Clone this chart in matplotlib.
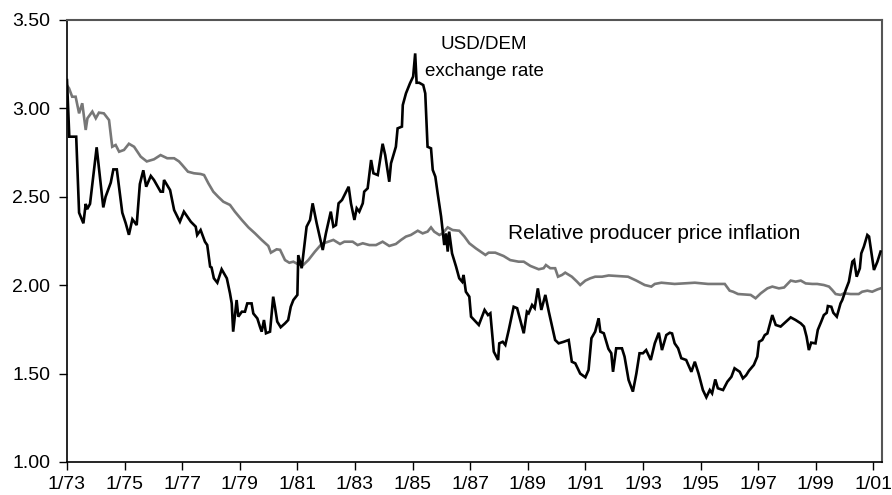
import matplotlib
matplotlib.use("Agg")
import matplotlib.pyplot as plt
import numpy as np

plt.rcParams['font.family'] = ['Liberation Sans', 'DejaVu Sans']

# USD/DEM exchange rate (decimal year, value)
fx_years = [
    1973.00, 1973.08, 1973.32, 1973.42, 1973.57, 1973.65, 1973.70, 1973.80, 1974.03, 1974.26,
    1974.34, 1974.52, 1974.61, 1974.73, 1974.92, 1975.04, 1975.15, 1975.27, 1975.42, 1975.53,
    1975.65, 1975.75, 1975.91, 1976.02, 1976.25, 1976.33, 1976.37, 1976.58, 1976.72, 1976.92,
    1977.06, 1977.30, 1977.47, 1977.52, 1977.64, 1977.79, 1977.87, 1977.97, 1978.02, 1978.10,
    1978.22, 1978.37, 1978.55, 1978.66, 1978.72, 1978.77, 1978.89, 1978.95, 1979.07, 1979.18,
    1979.26, 1979.41, 1979.47, 1979.61, 1979.70, 1979.76, 1979.84, 1979.91, 1980.05, 1980.16,
    1980.22, 1980.30, 1980.42, 1980.57, 1980.68, 1980.77, 1980.86, 1981.00, 1981.03, 1981.15,
    1981.32, 1981.44, 1981.53, 1981.67, 1981.88, 1981.99, 1982.16, 1982.25, 1982.34, 1982.43,
    1982.55, 1982.78, 1982.86, 1982.98, 1983.06, 1983.15, 1983.27, 1983.32, 1983.44, 1983.56,
    1983.64, 1983.79, 1983.96, 1984.05, 1984.19, 1984.25, 1984.42, 1984.48, 1984.63, 1984.66,
    1984.77, 1984.91, 1985.02, 1985.09, 1985.14, 1985.23, 1985.37, 1985.44, 1985.52, 1985.64,
    1985.70, 1985.79, 1985.87, 1985.99, 1986.10, 1986.16, 1986.22, 1986.27, 1986.37, 1986.51,
    1986.62, 1986.72, 1986.77, 1986.85, 1986.97, 1987.03, 1987.30, 1987.50, 1987.62, 1987.70,
    1987.82, 1987.97, 1988.01, 1988.13, 1988.22, 1988.34, 1988.51, 1988.63, 1988.86, 1988.97,
    1989.03, 1989.15, 1989.24, 1989.35, 1989.47, 1989.61, 1989.73, 1989.95, 1990.07, 1990.25,
    1990.42, 1990.53, 1990.65, 1990.82, 1991.00, 1991.11, 1991.21, 1991.34, 1991.46, 1991.52,
    1991.64, 1991.80, 1991.90, 1991.96, 1992.07, 1992.27, 1992.36, 1992.50, 1992.65, 1992.77,
    1992.88, 1993.00, 1993.11, 1993.27, 1993.41, 1993.55, 1993.66, 1993.81, 1993.93, 1994.01,
    1994.10, 1994.22, 1994.33, 1994.50, 1994.68, 1994.80, 1994.93, 1995.08, 1995.20, 1995.32,
    1995.40, 1995.51, 1995.60, 1995.78, 1995.93, 1996.07, 1996.18, 1996.36, 1996.47, 1996.58,
    1996.68, 1996.85, 1996.97, 1997.03, 1997.14, 1997.23, 1997.32, 1997.49, 1997.61, 1997.78,
    1997.90, 1998.13, 1998.30, 1998.48, 1998.59, 1998.68, 1998.76, 1998.84, 1998.99, 1999.07,
    1999.19, 1999.28, 1999.38, 1999.42, 1999.54, 1999.61, 1999.73, 1999.86, 1999.92, 2000.04,
    2000.15, 2000.27, 2000.33, 2000.42, 2000.53, 2000.58, 2000.67, 2000.79, 2000.85, 2000.96,
    2001.02, 2001.14, 2001.25,
]
fx_values = [
    3.16, 2.84, 2.84, 2.41, 2.35, 2.46, 2.43, 2.46, 2.78, 2.44,
    2.50, 2.58, 2.655, 2.655, 2.41, 2.35, 2.285, 2.373, 2.34, 2.572,
    2.65, 2.557, 2.618, 2.595, 2.529, 2.529, 2.595, 2.538, 2.425, 2.359,
    2.416, 2.359, 2.331, 2.284, 2.312, 2.246, 2.227, 2.105, 2.10, 2.039,
    2.014, 2.09, 2.039, 1.954, 1.897, 1.737, 1.916, 1.822, 1.85, 1.85,
    1.897, 1.897, 1.84, 1.812, 1.765, 1.737, 1.803, 1.728, 1.737, 1.935,
    1.878, 1.794, 1.762, 1.784, 1.803, 1.878, 1.916, 1.945, 2.17, 2.096,
    2.331, 2.369, 2.463, 2.35, 2.199, 2.293, 2.416, 2.331, 2.34, 2.463,
    2.482, 2.557, 2.463, 2.369, 2.435, 2.416, 2.463, 2.529, 2.548, 2.708,
    2.633, 2.623, 2.80, 2.736, 2.585, 2.689, 2.783, 2.887, 2.897, 3.019,
    3.085, 3.142, 3.18, 3.311, 3.145, 3.145, 3.132, 3.085, 2.783, 2.774,
    2.652, 2.614, 2.52, 2.388, 2.227, 2.293, 2.19, 2.303, 2.18, 2.105,
    2.039, 2.02, 2.058, 1.963, 1.935, 1.822, 1.775, 1.86, 1.831, 1.841,
    1.624, 1.577, 1.671, 1.68, 1.662, 1.747, 1.878, 1.87, 1.728, 1.85,
    1.841, 1.888, 1.87, 1.982, 1.86, 1.945, 1.85, 1.69, 1.671, 1.68,
    1.69, 1.567, 1.558, 1.50, 1.479, 1.52, 1.70, 1.737, 1.813, 1.737,
    1.728, 1.64, 1.615, 1.51, 1.643, 1.643, 1.596, 1.464, 1.398, 1.50,
    1.615, 1.615, 1.633, 1.577, 1.671, 1.731, 1.633, 1.718, 1.731, 1.727,
    1.671, 1.643, 1.587, 1.577, 1.51, 1.567, 1.50, 1.407, 1.366, 1.407,
    1.388, 1.467, 1.417, 1.407, 1.454, 1.482, 1.53, 1.51, 1.473, 1.49,
    1.516, 1.549, 1.596, 1.68, 1.69, 1.718, 1.727, 1.831, 1.775, 1.766,
    1.784, 1.818, 1.803, 1.784, 1.766, 1.709, 1.633, 1.675, 1.671, 1.747,
    1.794, 1.831, 1.844, 1.882, 1.878, 1.844, 1.822, 1.897, 1.916, 1.973,
    2.02, 2.133, 2.142, 2.048, 2.095, 2.18, 2.218, 2.284, 2.275, 2.152,
    2.086, 2.133, 2.19,
]

# Relative producer price inflation (decimal year, value)
ppi_years = [
    1973.00, 1973.07, 1973.18, 1973.30, 1973.42, 1973.53, 1973.65, 1973.71, 1973.88, 1974.00,
    1974.11, 1974.28, 1974.46, 1974.57, 1974.69, 1974.81, 1974.98, 1975.15, 1975.33, 1975.56,
    1975.77, 1976.02, 1976.25, 1976.48, 1976.72, 1976.89, 1977.00, 1977.20, 1977.41, 1977.64,
    1977.76, 1977.91, 1978.08, 1978.25, 1978.43, 1978.66, 1978.83, 1979.07, 1979.30, 1979.53,
    1979.76, 1979.99, 1980.08, 1980.28, 1980.40, 1980.57, 1980.72, 1980.86, 1981.03, 1981.20,
    1981.38, 1981.61, 1981.84, 1982.07, 1982.25, 1982.48, 1982.63, 1982.92, 1983.09, 1983.27,
    1983.50, 1983.73, 1983.96, 1984.19, 1984.42, 1984.60, 1984.77, 1984.94, 1985.18, 1985.35,
    1985.52, 1985.64, 1985.75, 1985.93, 1986.04, 1986.22, 1986.39, 1986.62, 1986.80, 1986.97,
    1987.20, 1987.53, 1987.64, 1987.87, 1988.16, 1988.39, 1988.68, 1988.86, 1989.09, 1989.38,
    1989.55, 1989.63, 1989.78, 1989.95, 1990.05, 1990.19, 1990.30, 1990.53, 1990.71, 1990.82,
    1991.00, 1991.17, 1991.34, 1991.58, 1991.81, 1992.48, 1992.77, 1993.06, 1993.29, 1993.41,
    1993.64, 1994.10, 1994.80, 1995.26, 1995.84, 1996.01, 1996.13, 1996.30, 1996.74, 1996.91,
    1997.09, 1997.32, 1997.49, 1997.72, 1997.90, 1998.13, 1998.30, 1998.48, 1998.65, 1998.88,
    1999.05, 1999.28, 1999.46, 1999.57, 1999.69, 1999.86, 1999.98, 2000.21, 2000.49, 2000.61,
    2000.79, 2000.96, 2001.14, 2001.25,
]
ppi_values = [
    3.13, 3.114, 3.066, 3.066, 2.972, 3.029, 2.878, 2.944, 2.982, 2.944,
    2.976, 2.972, 2.934, 2.783, 2.793, 2.755, 2.765, 2.80, 2.783, 2.727,
    2.70, 2.712, 2.736, 2.718, 2.718, 2.70, 2.68, 2.642, 2.633, 2.629,
    2.623, 2.576, 2.529, 2.50, 2.472, 2.454, 2.416, 2.369, 2.327, 2.293,
    2.256, 2.222, 2.184, 2.203, 2.20, 2.142, 2.127, 2.133, 2.118, 2.114,
    2.142, 2.19, 2.233, 2.246, 2.256, 2.233, 2.246, 2.246, 2.227, 2.237,
    2.227, 2.227, 2.246, 2.222, 2.233, 2.256, 2.275, 2.284, 2.308, 2.293,
    2.303, 2.327, 2.303, 2.284, 2.293, 2.327, 2.312, 2.308, 2.275, 2.237,
    2.208, 2.171, 2.184, 2.184, 2.165, 2.142, 2.133, 2.133, 2.109, 2.09,
    2.096, 2.114, 2.096, 2.096, 2.048, 2.058, 2.071, 2.048, 2.02, 2.001,
    2.026, 2.039, 2.048, 2.048, 2.055, 2.048, 2.026, 2.001, 1.992, 2.007,
    2.014, 2.007, 2.014, 2.007, 2.007, 1.969, 1.963, 1.95, 1.945, 1.926,
    1.954, 1.982, 1.992, 1.982, 1.987, 2.026, 2.02, 2.026, 2.01, 2.007,
    2.007, 2.001, 1.992, 1.973, 1.95, 1.945, 1.954, 1.95, 1.95, 1.963,
    1.969, 1.963, 1.976, 1.982,
]

x_tick_years = list(range(1973, 2002, 2))
x_tick_labels = ["1/%02d" % (y % 100) for y in x_tick_years]
y_ticks = [1.00, 1.50, 2.00, 2.50, 3.00, 3.50]

fig = plt.figure(figsize=(8.92, 4.95), dpi=100)
ax = fig.add_axes([0.0751, 0.0667, 0.9137, 0.8929])

ax.plot(ppi_years, ppi_values, color='#777777', lw=1.9, solid_joinstyle='miter', zorder=2)
ax.plot(fx_years, fx_values, color='black', lw=1.9, solid_joinstyle='miter', zorder=3)

ax.set_xlim(1973.0, 2001.30)
ax.set_ylim(1.0, 3.5)
ax.set_xticks(x_tick_years)
ax.set_xticklabels(x_tick_labels)
ax.set_yticks(y_ticks)
ax.set_yticklabels(["%.2f" % v for v in y_ticks])
ax.tick_params(axis='both', labelsize=14, direction='out', length=6, width=1, color='black')
ax.tick_params(axis='x', pad=4)
ax.tick_params(axis='y', pad=6)

for s in ['left', 'bottom']:
    ax.spines[s].set_color('black')
    ax.spines[s].set_linewidth(1.2)
for s in ['top', 'right']:
    ax.spines[s].set_color('#555555')
    ax.spines[s].set_linewidth(1.5)

ax.text(1987.48, 3.359, "USD/DEM", ha='center', va='center', fontsize=13.5)
ax.text(1987.48, 3.211, "exchange rate", ha='center', va='center', fontsize=13.5)
ax.text(1988.31, 2.295, "Relative producer price inflation", ha='left', va='center',
        fontsize=15)

fig.savefig("out.png", dpi=100)
